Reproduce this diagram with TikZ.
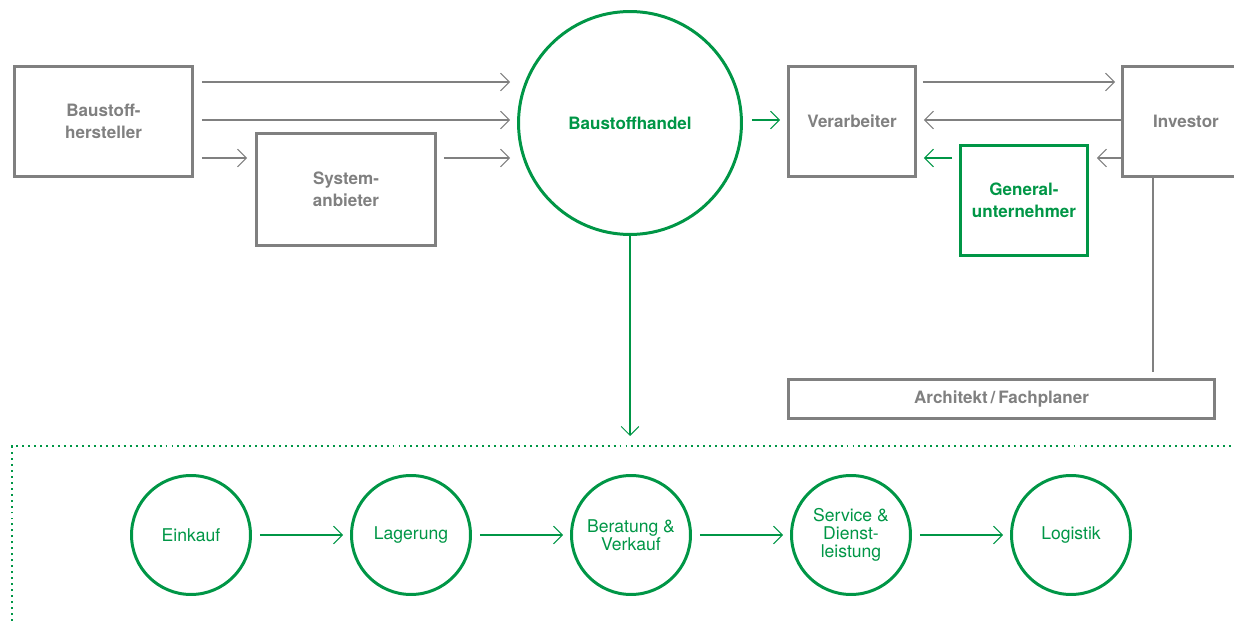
\documentclass[tikz,border=0pt]{standalone}
\usepackage{fontspec}
\setmainfont{TeX Gyre Heros}
\usetikzlibrary{arrows.meta}
\definecolor{bgray}{RGB}{128,128,128}
\definecolor{bgreen}{RGB}{0,150,70}

\begin{document}
\begin{tikzpicture}[x=0.02cm,y=-0.02cm,
  box/.style={rectangle,draw=bgray,line width=1.7pt,inner sep=0pt,align=center,text=bgray,font=\fontsize{9.7}{12.3}\selectfont\bfseries},
  gbox/.style={box,draw=bgreen,text=bgreen},
  big node/.style={circle,draw=bgreen,line width=1.7pt,inner sep=0pt,minimum size=4.46cm,text=bgreen,font=\fontsize{9.7}{12.3}\selectfont\bfseries},
  step node/.style={circle,draw=bgreen,line width=1.7pt,inner sep=0pt,minimum size=2.38cm,text=bgreen,align=center,font=\fontsize{10}{10.4}\selectfont},
  garr/.style={draw=bgray,line width=0.6pt,-{Straight Barb[length=5pt,width=10pt]}},
  ggarr/.style={garr,draw=bgreen}]

  \useasboundingbox (0,0) rectangle (1234,621);

  \node[box,minimum width=3.56cm,minimum height=2.2cm] (hst) at (103.5,121.5) {Baustoff-\\hersteller};
  \node[box,minimum width=3.58cm,minimum height=2.24cm] (sys) at (346,189.5) {System-\\anbieter};
  \node[big node] (handel) at (630,123) {Baustoffhandel};
  \node[box,minimum width=2.54cm,minimum height=2.2cm] (ver) at (852,121.5) {Verarbeiter};
  \node[box,minimum width=2.54cm,minimum height=2.2cm] (inv) at (1186,121.5) {Investor};
  \node[gbox,minimum width=2.54cm,minimum height=2.2cm] (gu) at (1024,200.5) {General-\\unternehmer};
  \node[box,minimum width=8.52cm,minimum height=0.78cm] (arch) at (1001.5,399) {Architekt\,/\,Fachplaner};

  \node[step node] (s1) at (191,535) {Einkauf};
  \node[step node] (s2) at (411,535) {Lagerung};
  \node[step node] (s3) at (631,535) {Beratung \&\\Verkauf};
  \node[step node] (s4) at (851,535) {Service \&\\Dienst-\\leistung};
  \node[step node] (s5) at (1071,535) {Logistik};

  \coordinate (dtip) at (630,436);
  \coordinate (archtop) at (1153,372);

  % supplier side
  \draw[garr,shorten <=0.16cm,shorten >=0.14cm] (hst.east |- 0,82) -- (handel.west |- 0,82);
  \draw[garr,shorten <=0.16cm,shorten >=0.14cm] (hst.east |- 0,120) -- (handel.west |- 0,120);
  \draw[garr,shorten <=0.16cm,shorten >=0.16cm] (hst.east |- 0,158) -- (sys.west |- 0,158);
  \draw[garr,shorten <=0.14cm,shorten >=0.14cm] (sys.east |- 0,158) -- (handel.west |- 0,158);

  % customer side
  \draw[ggarr,shorten <=0.18cm,shorten >=0.14cm] (handel.east |- 0,120) -- (ver.west |- 0,120);
  \draw[garr,shorten <=0.12cm,shorten >=0.12cm] (ver.east |- 0,82) -- (inv.west |- 0,82);
  \draw[garr,shorten >=0.14cm] (inv.west |- 0,120) -- (ver.east |- 0,120);
  \draw[garr,shorten >=0.16cm] (inv.west |- 0,158) -- (gu.east |- 0,158);
  \draw[ggarr,shorten <=0.14cm,shorten >=0.14cm] (gu.west |- 0,158) -- (ver.east |- 0,158);
  \draw[bgray,line width=0.6pt] (inv.south -| archtop) -- (archtop);

  % process chain
  \draw[ggarr] (handel) -- (dtip);
  \draw[bgreen,line width=1.1pt,dash pattern=on 1.1pt off 2.3pt] (12,621) -- (12,446) -- (1234,446);
  \draw[ggarr,shorten <=0.16cm,shorten >=0.14cm] (s1) -- (s2);
  \draw[ggarr,shorten <=0.16cm,shorten >=0.14cm] (s2) -- (s3);
  \draw[ggarr,shorten <=0.16cm,shorten >=0.14cm] (s3) -- (s4);
  \draw[ggarr,shorten <=0.16cm,shorten >=0.14cm] (s4) -- (s5);
\end{tikzpicture}
\end{document}
